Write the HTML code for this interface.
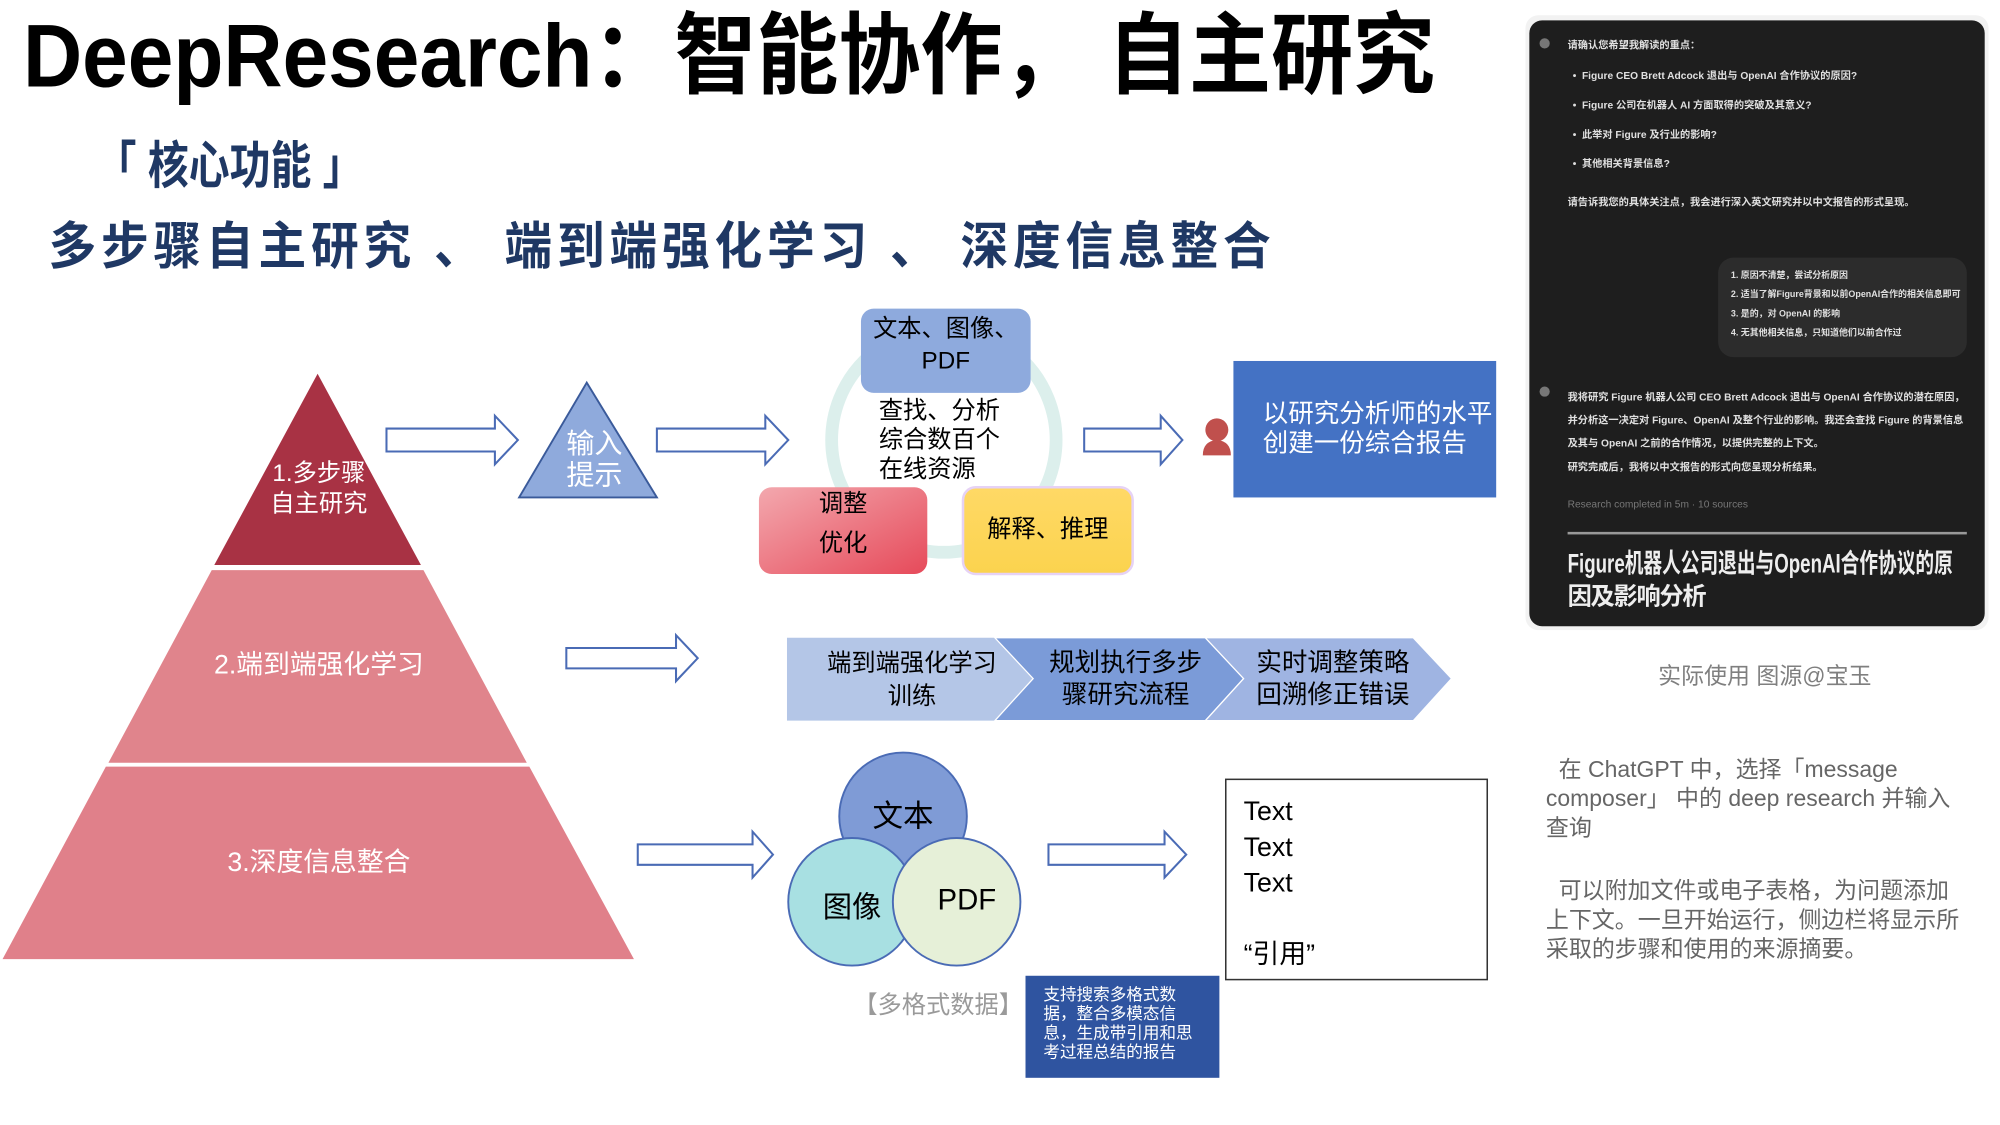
<!DOCTYPE html>
<html><head><meta charset="utf-8">
<style>
html,body{margin:0;padding:0;background:#fff;}
body{width:2000px;height:1125px;overflow:hidden;position:relative;}
#s{position:absolute;left:0;top:0;width:1568px;height:882px;transform:scale(1.27551);transform-origin:0 0;font-family:"Liberation Sans","Noto Sans CJK SC",sans-serif;}
.a{position:absolute;}
.fit{position:absolute;white-space:nowrap;}
.fit span{display:inline-block;transform-origin:0 50%;}
.c{display:flex;align-items:center;justify-content:center;text-align:center;}
</style></head><body>
<div id="s">
<div class="fit" style="left:18px;top:4px;width:1107px;height:80px;"><span style="font-size:70px;font-weight:bold;line-height:80px;color:#000;">DeepResearch：智能协作，&nbsp;自主研究</span></div>
<div class="fit" style="left:75px;top:106px;width:210px;height:50px;"><span style="font-size:40px;font-weight:bold;line-height:50px;color:#1f3864;">「 核心功能 」</span></div>
<div class="fit" style="left:38px;top:168px;width:962px;height:52px;"><span style="font-size:40px;font-weight:bold;line-height:52px;color:#1f3864;letter-spacing:4px;">多步骤自主研究 、 端到端强化学习 、 深度信息整合</span></div>

<svg class="a" style="left:0;top:0" width="1568" height="882">
<defs>
<linearGradient id="pk" x1="0" y1="0" x2="1" y2="1"><stop offset="0" stop-color="#f3a8ae"/><stop offset="1" stop-color="#e64a5a"/></linearGradient>
<linearGradient id="yl" x1="0" y1="0" x2="0" y2="1"><stop offset="0" stop-color="#ffd966"/><stop offset="1" stop-color="#fbd34e"/></linearGradient>
</defs>
<polygon points="249,293 330,443 168,443" fill="#a83244"/>
<polygon points="166,447 332,447 413,598 85,598" fill="#e0848c"/>
<polygon points="83,601 415,601 497,752 2,752" fill="#e0808a"/>
<g fill="#fff" stroke="#4a6bb5" stroke-width="1.6">
<polygon points="303,336 388,336 388,326 406,345 388,364 388,354 303,354"/>
<polygon points="515,336 600,336 600,326 618,345 600,364 600,354 515,354"/>
<polygon points="850,336 910,336 910,326 927,345 910,364 910,354 850,354"/>
<polygon points="444,508 530,508 530,498 547,516 530,534 530,524 444,524"/>
<polygon points="500,662 590,662 590,652 606,670 590,688 590,678 500,678"/>
<polygon points="822,662 913,662 913,652 930,670 913,688 913,678 822,678"/>
</g>
<polygon points="460,300 515,390 407,390" fill="#8faadc" stroke="#3a5a9a" stroke-width="1.5"/>
<circle cx="740" cy="345" r="88" fill="none" stroke="#dcefec" stroke-width="10"/>
<rect x="675" y="242" width="133" height="66" rx="10" fill="#8eaadd"/>
<rect x="595" y="382" width="132" height="68" rx="10" fill="url(#pk)"/>
<rect x="755" y="382" width="133" height="68" rx="10" fill="url(#yl)" stroke="#e6d2f5" stroke-width="2"/>
<circle cx="954" cy="337" r="9" fill="#c0504d"/>
<path d="M943,357 Q943,346 954,345 Q965,346 965,357 Z" fill="#c0504d"/>
<rect x="967" y="283" width="206" height="107" fill="#4472c4"/>
<polygon points="617,500 780,500 810,532 780,565 617,565" fill="#b4c6e7"/>
<polygon points="780,500 945,500 975,532 945,565 780,565 810,532" fill="#7b9bd8" stroke="#fff" stroke-width="1"/>
<polygon points="945,500 1108,500 1138,532 1108,565 945,565 975,532" fill="#9fb4e2" stroke="#fff" stroke-width="1"/>
<circle cx="708" cy="640" r="50" fill="#7f9bd6" stroke="#4a6bb5" stroke-width="1.5"/>
<circle cx="668" cy="707" r="50" fill="#a8e0e2" stroke="#4a6bb5" stroke-width="1.5"/>
<circle cx="750" cy="707" r="50" fill="#e6f0d8" stroke="#4a6bb5" stroke-width="1.5"/>
<rect x="961" y="611" width="205" height="157" fill="#fff" stroke="#333" stroke-width="1.2"/>
<rect x="804" y="765" width="152" height="80" fill="#2f54a0"/>
</svg>

<div class="a c" style="left:180px;top:360px;width:140px;color:#fff;font-size:19px;line-height:24px;">1.多步骤<br>自主研究</div>
<div class="a c" style="left:100px;top:505px;width:300px;color:#fff;font-size:21px;">2.端到端强化学习</div>
<div class="a c" style="left:100px;top:660px;width:300px;color:#fff;font-size:21px;">3.深度信息整合</div>
<div class="a" style="left:444px;top:335px;color:#fff;font-size:22px;line-height:25px;">输入<br>提示</div>
<div class="a c" style="left:675px;top:246px;width:133px;font-size:19px;line-height:25px;">文本、图像、<br>PDF</div>
<div class="a" style="left:689px;top:311px;font-size:19px;line-height:23px;">查找、分析<br>综合数百个<br>在线资源</div>
<div class="a c" style="left:595px;top:380px;width:132px;font-size:19px;line-height:31px;">调整<br>优化</div>
<div class="a c" style="left:755px;top:382px;width:133px;height:62px;font-size:19px;">解释、推理</div>
<div class="a" style="left:990px;top:314px;color:#fff;font-size:20px;line-height:23px;">以研究分析师的水平<br>创建一份综合报告</div>
<div class="a c" style="left:630px;top:508px;width:170px;font-size:19px;line-height:26px;">端到端强化学习<br>训练</div>
<div class="a c" style="left:805px;top:508px;width:155px;font-size:20px;line-height:25px;">规划执行多步<br>骤研究流程</div>
<div class="a c" style="left:965px;top:508px;width:160px;font-size:20px;line-height:25px;">实时调整策略<br>回溯修正错误</div>
<div class="a c" style="left:658px;top:620px;width:100px;font-size:24px;">文本</div>
<div class="a c" style="left:628px;top:692px;width:80px;font-size:23px;">图像</div>
<div class="a c" style="left:722px;top:692px;width:72px;font-size:23px;">PDF</div>
<div class="a" style="left:669px;top:773px;font-size:19px;color:#9a9a9a;">【多格式数据】</div>
<div class="a" style="left:818px;top:772px;width:124px;color:#fff;font-size:13px;line-height:15px;">支持搜索多格式数据，整合多模态信息，生成带引用和思考过程总结的报告</div>
<div class="a" style="left:975px;top:623px;font-size:21px;line-height:28px;">Text<br>Text<br>Text<br><br>“引用”</div>

<div class="a" style="left:1196px;top:12px;width:363px;height:482px;background:#f2f2f2;border-radius:10px;"></div>
<div class="a" style="left:1199px;top:16px;width:357px;height:475px;background:#1e1e1e;border-radius:10px;color:#e0e0e0;font-size:8px;line-height:11px;font-weight:bold;">
<div class="a" style="left:8px;top:14px;width:8px;height:8px;border-radius:50%;background:#777;"></div>
<div class="a" style="left:30px;top:14px;">请确认您希望我解读的重点：</div>
<div class="a" style="left:34px;top:38px;">•&nbsp;&nbsp;Figure CEO Brett Adcock 退出与 OpenAI 合作协议的原因?</div>
<div class="a" style="left:34px;top:61px;">•&nbsp;&nbsp;Figure 公司在机器人 AI 方面取得的突破及其意义?</div>
<div class="a" style="left:34px;top:84px;">•&nbsp;&nbsp;此举对 Figure 及行业的影响?</div>
<div class="a" style="left:34px;top:107px;">•&nbsp;&nbsp;其他相关背景信息?</div>
<div class="a" style="left:30px;top:137px;">请告诉我您的具体关注点，我会进行深入英文研究并以中文报告的形式呈现。</div>
<div class="a" style="left:148px;top:186px;width:195px;height:78px;background:#2c2c2c;border-radius:12px;"></div>
<div class="a" style="left:158px;top:193px;font-size:7px;line-height:15px;">1. 原因不清楚，尝试分析原因<br>2. 适当了解Figure背景和以前OpenAI合作的相关信息即可<br>3. 是的，对 OpenAI 的影响<br>4. 无其他相关信息，只知道他们以前合作过</div>
<div class="a" style="left:8px;top:287px;width:8px;height:8px;border-radius:50%;background:#777;"></div>
<div class="a" style="left:30px;top:287px;width:315px;line-height:18px;">我将研究 Figure 机器人公司 CEO Brett Adcock 退出与 OpenAI 合作协议的潜在原因，并分析这一决定对 Figure、OpenAI 及整个行业的影响。我还会查找 Figure 的背景信息及其与 OpenAI 之前的合作情况，以提供完整的上下文。</div>
<div class="a" style="left:30px;top:345px;">研究完成后，我将以中文报告的形式向您呈现分析结果。</div>
<div class="a" style="left:30px;top:374px;color:#777;font-weight:normal;">Research completed in 5m · 10 sources</div>
<div class="a" style="left:30px;top:401px;width:313px;height:2px;background:#999;"></div>
<div class="fit" style="left:30px;top:414px;width:302px;height:26px;"><span style="font-size:21px;line-height:26px;font-weight:bold;color:#eee;">Figure机器人公司退出与OpenAI合作协议的原</span></div>
<div class="a" style="left:30px;top:440px;font-size:19px;line-height:26px;font-weight:bold;color:#eee;letter-spacing:-1px;">因及影响分析</div>
</div>

<div class="a" style="left:1300px;top:516px;font-size:18px;color:#7f7f7f;">实际使用 图源@宝玉</div>
<div class="a" style="left:1212px;top:592px;width:328px;font-size:18px;line-height:23px;color:#666;">&nbsp;&nbsp;在 ChatGPT 中，选择「message composer」 中的 deep research 并输入查询</div>
<div class="a" style="left:1212px;top:687px;width:325px;font-size:18px;line-height:23px;color:#666;">&nbsp;&nbsp;可以附加文件或电子表格，为问题添加上下文。一旦开始运行，侧边栏将显示所采取的步骤和使用的来源摘要。</div>
</div>
<script>
document.querySelectorAll('.fit').forEach(function(d){var s=d.firstElementChild;var w=d.getBoundingClientRect().width/1.27551;var sw=s.getBoundingClientRect().width/1.27551;if(sw>0)s.style.transform='scaleX('+(w/sw)+')';});
</script>
</body></html>
